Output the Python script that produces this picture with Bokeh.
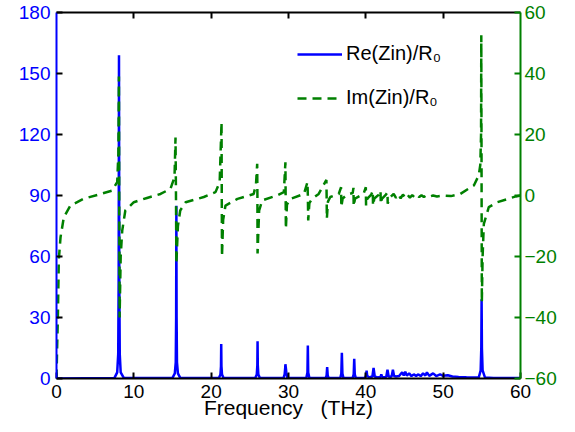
from bokeh.plotting import figure
from bokeh.models import Range1d, LinearAxis, FixedTicker
from bokeh.embed import file_html
from bokeh.resources import INLINE

# ---------------- data ----------------
x_ticks = [0, 10, 20, 30, 40, 50, 60]
top_ticks = [10, 20, 30, 40, 50]
left_ticks = [0, 30, 60, 90, 120, 150, 180]
right_ticks = [-60, -40, -20, 0, 20, 40, 60]

# Re(Zin)/R0 (left axis) : resonance peaks
re_f0 = [0.0]
re_v0 = [0.0]
re_f1 = [7.5, 7.85, 7.98, 8.04, 8.08, 8.12, 8.18, 8.3, 8.7]
re_v1 = [0.3, 3, 12, 50, 159, 50, 12, 3, 0.3]
re_f2 = [15.0, 15.3, 15.42, 15.47, 15.5, 15.53, 15.58, 15.7, 16.0]
re_v2 = [0.3, 2.5, 8, 30, 85, 30, 8, 2.5, 0.3]
re_f3 = [21.0, 21.2, 21.27, 21.3, 21.33, 21.4, 21.6]
re_v3 = [0.2, 2, 6, 17, 6, 2, 0.2]
re_f4 = [25.7, 25.9, 25.97, 26.0, 26.03, 26.1, 26.3]
re_v4 = [0.2, 2, 6.5, 18.3, 6.5, 2, 0.2]
re_f5 = [29.35, 29.5, 29.57, 29.6, 29.65, 29.72, 29.85]
re_v5 = [0.2, 2, 5, 7, 5.5, 3, 0.3]
re_f6 = [32.3, 32.45, 32.5, 32.55, 32.7]
re_v6 = [0.2, 3, 16.2, 3, 0.2]
re_f7 = [34.8, 34.93, 35.0, 35.07, 35.2]
re_v7 = [0.2, 1.5, 5.6, 1.5, 0.2]
re_f8 = [36.7, 36.83, 36.9, 36.97, 37.1]
re_v8 = [0.2, 2.5, 12.6, 2.5, 0.3]
re_f9 = [38.3, 38.43, 38.5, 38.57, 38.7]
re_v9 = [0.3, 2, 9.7, 2, 0.3]
re_f10 = [39.9, 40.03, 40.1, 40.17, 40.4]
re_v10 = [0.4, 1.5, 3.9, 1.5, 0.5]
re_f11 = [40.85, 41.0, 41.15, 41.5, 41.9, 42.0, 42.1, 42.5,
          42.65, 42.8, 42.95, 43.2, 43.35, 43.5, 43.65, 43.9]
re_v11 = [1, 5.2, 1, 0.5, 0.8, 2, 0.8, 0.6,
          1, 4.3, 1, 0.8, 1.2, 4.3, 1.2, 1]
re_f12 = [44.3, 44.7, 44.9, 45.1, 45.3, 45.6, 45.9, 46.2, 46.5, 46.8, 47.1, 47.4,
          47.7, 47.9, 48.2, 48.7, 49.1, 49.6, 50.0, 50.6, 51.2, 52.0, 53.0, 54.0]
re_v12 = [1.2, 3.1, 1.5, 3.3, 1.4, 2.5, 1.2, 2, 1.3, 2, 1.2, 2.5,
          1.5, 3, 1.3, 2.5, 1.2, 2, 1.3, 1.6, 1, 0.8, 0.6, 0.5]
re_f13 = [54.6, 54.85, 54.93, 54.97, 55.01, 55.1, 55.4, 56.5, 60.0]
re_v13 = [0.5, 4, 15, 39, 15, 4, 0.5, 0.2, 0.2]

re_freq = (re_f0 + re_f1 + re_f2 + re_f3 + re_f4 + re_f5 + re_f6 + re_f7 +
           re_f8 + re_f9 + re_f10 + re_f11 + re_f12 + re_f13)
re_vals = (re_v0 + re_v1 + re_v2 + re_v3 + re_v4 + re_v5 + re_v6 + re_v7 +
           re_v8 + re_v9 + re_v10 + re_v11 + re_v12 + re_v13)

# Im(Zin)/R0 (right axis)
im_f1 = [0.0, 0.08, 0.17, 0.3, 0.52, 0.95, 1.8, 3.5, 5.7, 7.2, 7.85, 8.0, 8.07,
         8.11, 8.16, 8.3, 8.5, 8.9, 10.0, 11.7, 13.45, 14.74, 15.26, 15.39,
         15.45, 15.5, 15.7, 16.0, 16.7, 19.05, 20.56, 21.1, 21.34, 21.37, 21.4,
         21.55, 21.85, 23.4, 25.5, 25.8, 25.95, 25.98, 26.0, 26.2, 26.6, 28.5]
im_v1 = [-60, -50, -41, -21, -13.7, -7.1, -3.3, -1.1, 0.5, 1.6, 4.4, 13.7, 39,
         0, -40, -20, -11.5, -4.9, -2.2, -0.8, 0.5, 2.2, 6, 19,
         0, -22.4, -10, -4.9, -2.2, -0.5, 1.1, 4.4, 24, 0, -20,
         -8, -3.3, -1.1, 0.5, 3.8, 10.4, 0, -19, -5, -1.6, 0]
im_f2 = [29.4, 29.6, 29.63, 29.66, 29.8, 30.26, 32.0, 32.45, 32.5, 32.55, 32.7,
         33.05, 33.9, 34.9, 34.93, 34.96, 35.1, 35.4, 36.5, 36.8, 36.83, 37.0,
         37.6, 38.3, 38.4, 38.43, 38.6, 39.7, 40.0, 40.03, 40.2, 40.7, 40.9,
         40.93, 41.1, 41.7, 41.9, 41.93, 42.1, 42.6, 42.8, 42.83, 43.0]
im_v2 = [1.1, 10.9, 0, -10.9, -3, -1.1, 0.5, 4.4, 0, -8.2, -2.5,
         -1.1, 0.5, 5.1, 0, -7.6, -2, -0.5, 0.5, 2.7, -3.8, -1,
         0.3, 0.8, 2.5, -3.5, -1, 0.5, 2.7, -3.3, -1, 0.3, 1.6,
         -3.3, -1, 0.3, 1.6, -2.7, -1, 0.3, 1.1, -2.7, -1]
im_f3 = [43.3, 43.6, 43.9, 44.2, 44.5, 44.8, 45.1, 45.4, 45.7, 46.0, 46.3, 46.6,
         46.9, 47.2, 47.5, 47.8, 48.2, 48.7, 49.2, 50.0, 51.0, 52.2, 53.97, 54.6,
         54.8, 54.9, 54.93, 54.97, 55.0, 55.1, 55.26, 55.9, 57.0, 59.4, 60.0]
im_v3 = [-0.2, 0.5, -0.8, 0.4, -0.9, 0.3, -0.8, 0.2, -0.7, 0.1, -0.6, 0.2,
         -0.5, 0.1, -0.5, 0, -0.4, 0, -0.3, 0, -0.2, 0.5, 3.3, 6.6,
         10, 20, 52.5, 0, -35, -20, -9.3, -3.8, -2.2, -0.3, 0]

im_freq = im_f1 + im_f2 + im_f3
im_vals = im_v1 + im_v2 + im_v3

BLUE = "#0000FF"
GREEN = "#008000"
FONT = "Liberation Sans"

p = figure(width=575, height=430, x_range=Range1d(0, 60), y_range=Range1d(0, 180),
           output_backend="svg", toolbar_location=None,
           min_border_left=56, min_border_right=55, min_border_top=12, min_border_bottom=52)
p.extra_y_ranges = {"im": Range1d(-60, 60)}
p.xgrid.visible = False
p.ygrid.visible = False
p.outline_line_color = None
p.background_fill_color = "white"


def style(ax, color, label_color, ticks, standoff=5):
    ax.ticker = FixedTicker(ticks=ticks)
    ax.axis_line_color = color
    ax.axis_line_width = 2
    ax.major_tick_in = 6
    ax.major_tick_out = 0
    ax.major_tick_line_width = 2
    ax.minor_tick_line_color = None
    ax.major_label_text_font = FONT
    ax.major_label_text_font_size = "19px"
    ax.major_label_text_color = label_color
    ax.major_label_standoff = standoff


xa = p.xaxis[0]
style(xa, "black", "black", x_ticks, standoff=6)
xa.major_tick_line_color = "black"
xa.axis_label = "Frequency\u00a0\u00a0\u00a0(THz)"
xa.axis_label_text_font = FONT
xa.axis_label_text_font_style = "normal"
xa.axis_label_text_font_size = "21px"
xa.axis_label_text_color = "black"
xa.axis_label_standoff = -5

ya = p.yaxis[0]
style(ya, BLUE, BLUE, left_ticks, standoff=6)
ya.major_tick_line_color = "black"

ra = LinearAxis(y_range_name="im")
style(ra, GREEN, GREEN, right_ticks, standoff=4)
ra.major_tick_line_color = GREEN
p.add_layout(ra, "right")

ta = LinearAxis()
style(ta, "black", "black", top_ticks, standoff=0)
ta.major_tick_line_color = "black"
ta.major_label_overrides = {t: "" for t in top_ticks}
p.add_layout(ta, "above")

p.line(re_freq, re_vals, line_color=BLUE, line_width=2.5, legend_label="Re(Zin)/R\u2080")
p.line(im_freq, im_vals, line_color=GREEN, line_width=2.5, line_dash="9 6",
       y_range_name="im", legend_label="Im(Zin)/R\u2080")

lg = p.legend[0]
lg.location = (241, 269)
lg.border_line_color = None
lg.background_fill_alpha = 0
lg.padding = 0
lg.margin = 0
lg.spacing = 21
lg.glyph_width = 45
lg.glyph_height = 20
lg.label_height = 20
lg.label_standoff = 4
lg.label_text_font = FONT
lg.label_text_font_size = "20px"
lg.label_text_color = "black"

open("out.html", "w").write(file_html(p, INLINE))
